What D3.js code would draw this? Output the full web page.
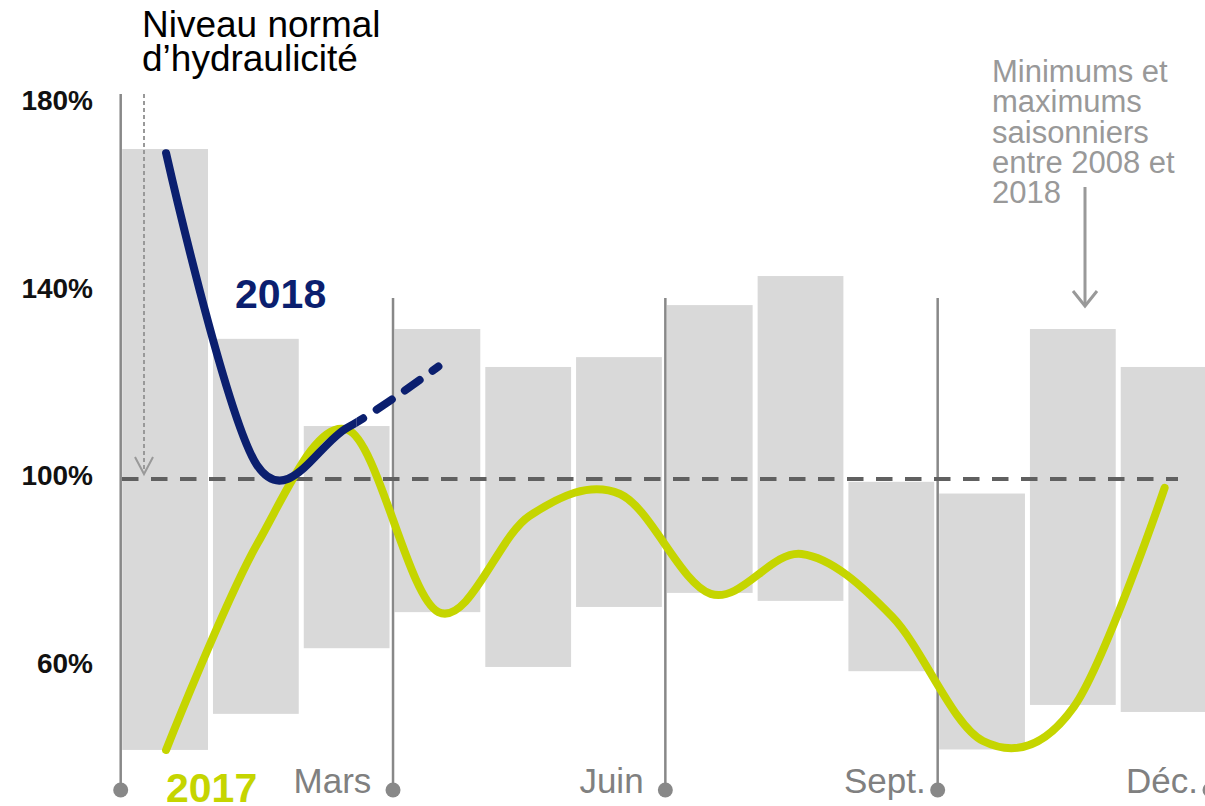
<!DOCTYPE html>
<html>
<head>
<meta charset="utf-8">
<script src="https://cdn.jsdelivr.net/npm/d3@7"></script>
<style>
  body { margin: 0; background: #fff; }
  svg text { font-family: "Liberation Sans", Arial, sans-serif; }
</style>
</head>
<body>
<div id="chart"></div>
<script>
// Months (the band for each bar)
var months = ["Janv.", "Févr.", "Mars", "Avr.", "Mai", "Juin", "Juil.", "Août", "Sept.", "Oct.", "Nov.", "Déc."];

// Seasonal minimums and maximums 2008-2018 (% of normal level)
var minValues = [42.2, 49.9, 63.9, 71.6, 59.9, 72.7, 75.7, 74.0, 59.0, 42.3, 51.8, 50.3];
var maxValues = [170.4, 129.9, 111.3, 132.0, 123.9, 126.0, 137.1, 143.3, 99.4, 96.9, 132.0, 123.9];

// Hydraulicity per month
var values2017 = [42.2, 86.0, 110.5, 71.6, 92.1, 96.8, 75.5, 84.0, 70.6, 44.1, 51.4, 98.1];
var values2018 = [169.5, 103.0, 111.0, 124.0];
var solidUntil2018 = 2.6; // the 2018 line turns into dashes after this point (in months)

// Axis ticks and quarter marks
var yTicks = [60, 100, 140, 180];
var quarterIdx = [0, 3, 6, 9, 12];
var quarterLabels = ["", "Mars\u00a0", "Juin\u00a0", "Sept.", "Déc."];

var width = 1205, height = 806;
var navy = "#0b1f6f", lime = "#c5d500", grey = "#888888";

var svg = d3.select("#chart").append("svg")
    .attr("width", width)
    .attr("height", height);

// Scales
var x = d3.scaleBand().domain(months).range([120.7, 1210]).padding(0);
var xm = d3.scaleLinear().domain([0, 12]).range([120.7, 1210]);
var y = d3.scaleLinear().domain([100, 180]).range([479, 104]);
var bw = x.bandwidth();

// Min/max bars
svg.append("g").selectAll("rect")
    .data(months)
    .enter()
    .append("rect")
    .attr("x", d => x(d) + 1.5)
    .attr("width", bw - 5)
    .attr("y", (d, i) => y(maxValues[i]))
    .attr("height", (d, i) => y(minValues[i]) - y(maxValues[i]))
    .style("fill", "#d9d9d9");

// Quarter vertical lines with dots
var baseY = 790;
svg.append("g").selectAll("line")
    .data(quarterIdx)
    .enter()
    .append("line")
    .attr("x1", d => xm(d)).attr("x2", d => xm(d))
    .attr("y1", (d, i) => i === 0 ? 94 : 298)
    .attr("y2", baseY)
    .style("stroke", grey)
    .style("stroke-width", 2.5);

svg.append("g").selectAll("circle")
    .data(quarterIdx)
    .enter()
    .append("circle")
    .attr("cx", d => xm(d))
    .attr("cy", baseY)
    .attr("r", 7.5)
    .style("fill", grey);

svg.append("g").selectAll("text")
    .data(quarterIdx)
    .enter()
    .append("text")
    .attr("x", d => xm(d) - 12)
    .attr("y", 793)
    .attr("text-anchor", "end")
    .style("font-size", "35px")
    .style("fill", "#808080")
    .text((d, i) => quarterLabels[i]);

// Y axis labels
svg.append("g").selectAll("text")
    .data(yTicks)
    .enter()
    .append("text")
    .attr("x", 93)
    .attr("y", d => y(d) + 6)
    .attr("text-anchor", "end")
    .style("font-size", "28px")
    .style("font-weight", "bold")
    .style("fill", "#111")
    .text(d => d + "%");

// Normal level (100%)
svg.append("line")
    .attr("x1", 122).attr("x2", 1178)
    .attr("y1", y(100)).attr("y2", y(100))
    .style("stroke", "#606060")
    .style("stroke-width", 4)
    .style("stroke-dasharray", "16.5,12.5");

// Lines (uniform Catmull-Rom, like a smoothed office chart)
var line = d3.line()
    .x((d, i) => x(months[i]) + bw / 2)
    .y(d => y(d))
    .curve(d3.curveCardinal.tension(0));

svg.append("path")
    .attr("d", line(values2017))
    .style("fill", "none")
    .style("stroke", lime)
    .style("stroke-width", 8)
    .style("stroke-linecap", "round");

var defs = svg.append("defs");
defs.append("clipPath").attr("id", "clipSolid")
    .append("rect").attr("x", 0).attr("y", 0).attr("width", xm(solidUntil2018)).attr("height", height);
defs.append("clipPath").attr("id", "clipDash")
    .append("rect").attr("x", xm(solidUntil2018)).attr("y", 0).attr("width", width).attr("height", height);

svg.append("path")
    .attr("d", line(values2018))
    .attr("clip-path", "url(#clipSolid)")
    .style("fill", "none")
    .style("stroke", navy)
    .style("stroke-width", 8)
    .style("stroke-linecap", "round");

svg.append("path")
    .attr("d", line(values2018))
    .attr("clip-path", "url(#clipDash)")
    .style("fill", "none")
    .style("stroke", navy)
    .style("stroke-width", 8)
    .style("stroke-linecap", "round")
    .style("stroke-dasharray", "18,16");

// Series labels
svg.append("text")
    .attr("x", 235).attr("y", 308)
    .style("font-size", "41px").style("font-weight", "bold")
    .style("fill", navy)
    .text("2018");

svg.append("text")
    .attr("x", 166).attr("y", 802)
    .style("font-size", "41px").style("font-weight", "bold")
    .style("fill", lime)
    .text("2017");

// Annotation: normal level
svg.append("text")
    .attr("x", 142).attr("y", 37)
    .style("font-size", "37px").style("fill", "#000")
    .text("Niveau normal");
svg.append("text")
    .attr("x", 142).attr("y", 71)
    .style("font-size", "37px").style("fill", "#000")
    .text("d’hydraulicité");

svg.append("line")
    .attr("x1", 144).attr("x2", 144)
    .attr("y1", 94).attr("y2", y(100) - 6)
    .style("stroke", "#999")
    .style("stroke-width", 2)
    .style("stroke-dasharray", "4,3");
svg.append("path")
    .attr("d", "M135,457 L144," + (y(100) - 5) + " L153,457")
    .style("fill", "none")
    .style("stroke", "#999")
    .style("stroke-width", 2);

// Annotation: seasonal min/max
var noteLines = ["Minimums et", "maximums", "saisonniers", "entre 2008 et", "2018"];
svg.append("g").selectAll("text")
    .data(noteLines)
    .enter()
    .append("text")
    .attr("x", 992)
    .attr("y", (d, i) => 82 + i * 30.3)
    .style("font-size", "31px")
    .style("fill", "#999")
    .text(d => d);

svg.append("line")
    .attr("x1", 1085).attr("x2", 1085)
    .attr("y1", 187).attr("y2", 305)
    .style("stroke", "#999")
    .style("stroke-width", 3);
svg.append("path")
    .attr("d", "M1073,291 L1085,306 L1097,291")
    .style("fill", "none")
    .style("stroke", "#999")
    .style("stroke-width", 3);
</script>
</body>
</html>
